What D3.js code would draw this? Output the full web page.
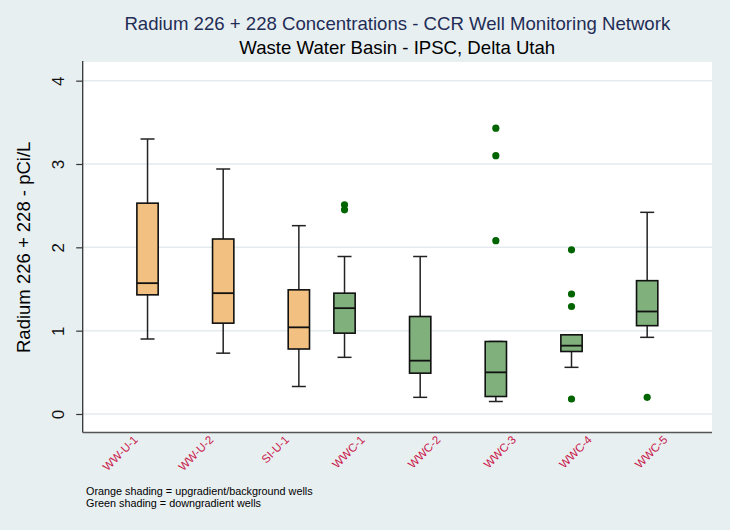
<!DOCTYPE html>
<html>
<head>
<meta charset="utf-8">
<script src="https://cdn.jsdelivr.net/npm/d3@7/dist/d3.min.js"></script>
<style>
  html, body { margin: 0; padding: 0; background: #e8eff1; }
  svg { display: block; font-family: "Liberation Sans", Arial, sans-serif; }
</style>
</head>
<body>
<svg id="chart" width="730" height="530"></svg>
<script>
// Well names and their position relative to the basin
const wells = ["WW-U-1", "WW-U-2", "SI-U-1", "WWC-1", "WWC-2", "WWC-3", "WWC-4", "WWC-5"];
const gradient = ["up", "up", "up", "down", "down", "down", "down", "down"];

// Box-plot summaries, Radium 226 + 228 (pCi/L)
const whiskerLow  = [0.90, 0.73, 0.33, 0.68, 0.20, 0.15, 0.56, 0.92];
const q1          = [1.43, 1.09, 0.78, 0.97, 0.49, 0.21, 0.75, 1.06];
const median      = [1.57, 1.45, 1.04, 1.27, 0.64, 0.50, 0.82, 1.23];
const q3          = [2.53, 2.10, 1.49, 1.45, 1.17, 0.87, 0.95, 1.60];
const whiskerHigh = [3.30, 2.94, 2.26, 1.89, 1.89, 0.87, 0.95, 2.42];
const outliers    = [[], [], [], [2.51, 2.45], [], [3.43, 3.10, 2.08], [1.97, 1.44, 1.29, 0.18], [0.20]];

const yTicks = [0, 1, 2, 3, 4];

const FONT = "'Liberation Sans', Arial, sans-serif";

const rows = wells.map((w, i) => ({
  well: w, side: gradient[i],
  lo: whiskerLow[i], q1: q1[i], med: median[i], q3: q3[i], hi: whiskerHigh[i],
  out: outliers[i]
}));

const svg = d3.select("#chart");
const plot = { left: 82.7, right: 712, top: 62, bottom: 432.5 };

// background
svg.append("rect").attr("width", 730).attr("height", 530).attr("fill", "#e8eff1");
svg.append("rect")
  .attr("x", plot.left).attr("y", plot.top)
  .attr("width", plot.right - plot.left).attr("height", plot.bottom - plot.top)
  .attr("fill", "#ffffff");

// scales
const y = d3.scaleLinear().domain([-0.222, 4.224]).range([plot.bottom, plot.top]);
const x = d3.scaleBand().domain(wells).range([plot.left + 12, plot.right - 12]).padding(0);
const sub = d3.scaleBand().domain(["down", "up"]).range([-30, 30]).padding(0);
const fill = d3.scaleOrdinal().domain(["up", "down"]).range(["#f2c080", "#80b07c"]);
const boxW = sub.bandwidth() * 0.71;
const cx = d => x(d.well) + x.bandwidth() / 2 + sub(d.side) + sub.bandwidth() / 2;

// grid lines
svg.append("g").selectAll("line").data(yTicks).join("line")
  .attr("x1", plot.left).attr("x2", plot.right)
  .attr("y1", d => y(d)).attr("y2", d => y(d))
  .attr("stroke", "#e3ebee").attr("stroke-width", 1.5);

// y axis
const yAxis = svg.append("g").attr("transform", `translate(${plot.left},0)`)
  .call(d3.axisLeft(y).tickValues(yTicks).tickSize(6.5).tickFormat(d3.format("d")));
yAxis.attr("font-family", FONT);
yAxis.select(".domain").remove();
yAxis.selectAll(".tick line").attr("stroke", "#333").attr("stroke-width", 1.2);
yAxis.selectAll(".tick text")
  .attr("x", null).attr("dy", null)
  .attr("transform", "translate(-19,0) rotate(-90)")
  .attr("text-anchor", "middle")
  .attr("font-size", 17).attr("fill", "#111");
svg.append("line")
  .attr("x1", plot.left).attr("x2", plot.left)
  .attr("y1", plot.top - 1).attr("y2", plot.bottom)
  .attr("stroke", "#333").attr("stroke-width", 1.3);

// bottom axis line
svg.append("line")
  .attr("x1", plot.left).attr("x2", plot.right)
  .attr("y1", plot.bottom).attr("y2", plot.bottom)
  .attr("stroke", "#555").attr("stroke-width", 1.6);

// x category labels
const xAxis = svg.append("g").attr("transform", `translate(0,${plot.bottom})`)
  .call(d3.axisBottom(x).tickSize(0));
xAxis.attr("font-family", FONT);
xAxis.select(".domain").remove();
xAxis.selectAll(".tick text")
  .attr("y", null).attr("dy", null)
  .attr("transform", "translate(6,8) rotate(-45)")
  .attr("text-anchor", "end")
  .attr("font-size", 11.5).attr("fill", "#c8174a");

// boxes
const g = svg.append("g").selectAll("g").data(rows).join("g");

g.append("line")
  .attr("x1", cx).attr("x2", cx)
  .attr("y1", d => y(d.hi)).attr("y2", d => y(d.q3))
  .attr("stroke", "#222").attr("stroke-width", 1.5);
g.append("line")
  .attr("x1", cx).attr("x2", cx)
  .attr("y1", d => y(d.q1)).attr("y2", d => y(d.lo))
  .attr("stroke", "#222").attr("stroke-width", 1.5);
g.append("line")
  .attr("x1", d => cx(d) - 7).attr("x2", d => cx(d) + 7)
  .attr("y1", d => y(d.hi)).attr("y2", d => y(d.hi))
  .attr("stroke", "#222").attr("stroke-width", 1.5);
g.append("line")
  .attr("x1", d => cx(d) - 7).attr("x2", d => cx(d) + 7)
  .attr("y1", d => y(d.lo)).attr("y2", d => y(d.lo))
  .attr("stroke", "#222").attr("stroke-width", 1.5);
g.append("rect")
  .attr("x", d => cx(d) - boxW / 2).attr("width", boxW)
  .attr("y", d => y(d.q3)).attr("height", d => y(d.q1) - y(d.q3))
  .attr("fill", d => fill(d.side))
  .attr("stroke", "#111").attr("stroke-width", 1.6);
g.append("line")
  .attr("x1", d => cx(d) - boxW / 2).attr("x2", d => cx(d) + boxW / 2)
  .attr("y1", d => y(d.med)).attr("y2", d => y(d.med))
  .attr("stroke", "#111").attr("stroke-width", 1.8);

// outside values
g.selectAll("circle").data(d => d.out.map(v => ({ v, d }))).join("circle")
  .attr("cx", o => cx(o.d)).attr("cy", o => y(o.v))
  .attr("r", 3.6).attr("fill", "#006400");

// titles
svg.append("text").attr("x", 397.3).attr("y", 29.5)
  .attr("text-anchor", "middle").attr("font-size", 18.6).attr("fill", "#1f2d56")
  .text("Radium 226 + 228 Concentrations - CCR Well Monitoring Network");
svg.append("text").attr("x", 397.3).attr("y", 54)
  .attr("text-anchor", "middle").attr("font-size", 18.6).attr("fill", "#000")
  .text("Waste Water Basin - IPSC, Delta Utah");

// y axis title
svg.append("text")
  .attr("transform", `translate(30,${(y(0) + y(4)) / 2}) rotate(-90)`)
  .attr("text-anchor", "middle").attr("font-size", 18.5).attr("fill", "#000")
  .text("Radium 226 + 228 - pCi/L");

// note
const note = svg.append("text").attr("font-size", 10.8).attr("fill", "#000");
note.append("tspan").attr("x", 86).attr("y", 495).text("Orange shading = upgradient/background wells");
note.append("tspan").attr("x", 86).attr("y", 506.5).text("Green shading = downgradient wells");
</script>
</body>
</html>
